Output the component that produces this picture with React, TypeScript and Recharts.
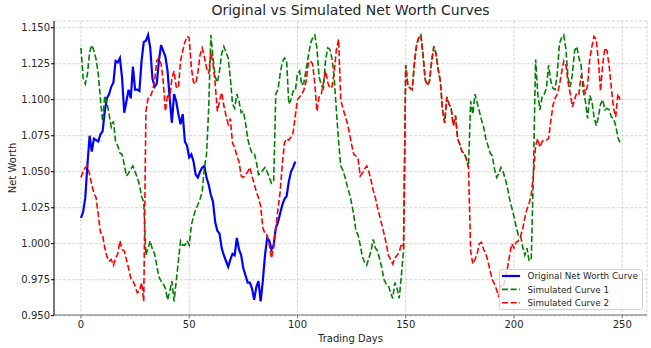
import { LineChart, Line, XAxis, YAxis, CartesianGrid, Legend, Label } from "recharts";

const FONT = '"DejaVu Sans", Verdana, sans-serif';

const X_TICKS = [0, 50, 100, 150, 200, 250];
const Y_TICKS = [0.95, 0.975, 1.0, 1.025, 1.05, 1.075, 1.1, 1.125, 1.15];

// original net worth, trading days 0-99
const ORIGINAL = [
  1.018, 1.022, 1.032, 1.055, 1.075, 1.064, 1.073, 1.072, 1.071, 1.076,
  1.078, 1.092, 1.101, 1.104, 1.109, 1.112, 1.127, 1.126, 1.129, 1.115,
  1.091, 1.099, 1.107, 1.101, 1.123, 1.107, 1.107, 1.106, 1.127, 1.140,
  1.141, 1.145, 1.136, 1.115, 1.109, 1.111, 1.127, 1.138, 1.134, 1.130,
  1.120, 1.101, 1.084, 1.104, 1.099, 1.090, 1.083, 1.090, 1.071, 1.068,
  1.060, 1.062, 1.057, 1.048, 1.046, 1.050, 1.053, 1.054, 1.046, 1.041,
  1.034, 1.029, 1.015, 1.009, 1.007, 0.997, 0.992, 0.988, 0.984, 0.989,
  0.993, 0.992, 1.004, 0.996, 0.992, 0.983, 0.978, 0.973, 0.973, 0.969,
  0.961, 0.970, 0.974, 0.960, 0.974, 0.992, 1.004, 1.002, 0.996, 0.999,
  1.011, 1.015, 1.021, 1.027, 1.031, 1.033, 1.043, 1.050, 1.053, 1.057,
];

// simulated curve 1, days 0-149
const SIM1_HEAD = [
  1.136, 1.115, 1.111, 1.118, 1.133, 1.138, 1.134, 1.128, 1.118, 1.100,
  1.085, 1.103, 1.098, 1.090, 1.081, 1.085, 1.071, 1.068, 1.063, 1.062,
  1.055, 1.047, 1.049, 1.052, 1.054, 1.050, 1.046, 1.041, 1.033, 1.029,
  0.992, 0.997, 1.002, 0.996, 0.993, 0.985, 0.977, 0.974, 0.972, 0.969,
  0.961, 0.967, 0.974, 0.960, 0.974, 0.988, 1.002, 0.999, 0.999, 1.002,
  0.999, 1.013, 1.019, 1.024, 1.027, 1.031, 1.036, 1.053, 1.062, 1.094,
  1.145, 1.129, 1.116, 1.112, 1.120, 1.132, 1.137, 1.133, 1.129, 1.115,
  1.097, 1.094, 1.104, 1.099, 1.091, 1.092, 1.084, 1.073, 1.067, 1.063,
  1.063, 1.057, 1.048, 1.049, 1.051, 1.053, 1.050, 1.046, 1.042, 1.043,
  1.104, 1.107, 1.118, 1.126, 1.129, 1.127, 1.097, 1.100, 1.106, 1.106,
  1.118, 1.120, 1.110, 1.112, 1.121, 1.130, 1.139, 1.143, 1.145, 1.136,
  1.116, 1.110, 1.108, 1.128, 1.136, 1.135, 1.128, 1.115, 1.092, 1.071,
  1.054, 1.051, 1.046, 1.040, 1.035, 1.028, 1.020, 1.009, 1.006, 0.999,
  0.991, 0.987, 0.985, 0.990, 0.995, 1.003, 0.997, 0.995, 0.989, 0.983,
  0.975, 0.972, 0.971, 0.966, 0.962, 0.973, 0.969, 0.962, 0.978, 0.995,
];

// simulated curve 2, days 0-149
const SIM2_HEAD = [
  1.046, 1.050, 1.053, 1.054, 1.048, 1.041, 1.035, 1.032, 1.020, 1.008,
  1.006, 0.997, 0.991, 0.988, 0.989, 0.985, 0.990, 0.993, 1.002, 0.996,
  0.995, 0.989, 0.983, 0.976, 0.974, 0.971, 0.966, 0.967, 0.973, 0.960,
  1.092, 1.101, 1.102, 1.106, 1.113, 1.127, 1.129, 1.125, 1.113, 1.092,
  1.104, 1.101, 1.115, 1.120, 1.109, 1.108, 1.127, 1.134, 1.140, 1.144,
  1.143, 1.122, 1.112, 1.111, 1.119, 1.131, 1.136, 1.130, 1.122, 1.118,
  1.133, 1.125, 1.111, 1.092, 1.099, 1.105, 1.096, 1.089, 1.083, 1.087,
  1.070, 1.067, 1.061, 1.057, 1.047, 1.046, 1.048, 1.050, 1.053, 1.047,
  1.042, 1.036, 1.032, 1.026, 1.011, 1.007, 1.006, 0.999, 0.990, 0.997,
  1.011, 1.024, 1.036, 1.055, 1.070, 1.073, 1.072, 1.074, 1.077, 1.089,
  1.100, 1.102, 1.104, 1.107, 1.113, 1.125, 1.127, 1.125, 1.111, 1.092,
  1.102, 1.104, 1.112, 1.120, 1.112, 1.108, 1.109, 1.120, 1.135, 1.142,
  1.100, 1.094, 1.089, 1.084, 1.077, 1.069, 1.062, 1.061, 1.059, 1.047,
  1.049, 1.052, 1.054, 1.050, 1.044, 1.037, 1.032, 1.025, 1.019, 1.013,
  1.007, 1.000, 0.992, 0.989, 0.986, 0.990, 0.992, 0.994, 1.000, 0.998,
];

// days 150-179: both simulated curves follow the same path
const SHARED = [
  1.124, 1.110, 1.108, 1.107, 1.125, 1.138, 1.143, 1.145, 1.131, 1.114,
  1.110, 1.113, 1.127, 1.137, 1.132, 1.121, 1.113, 1.093, 1.084, 1.102,
  1.097, 1.094, 1.082, 1.089, 1.073, 1.069, 1.064, 1.063, 1.059, 1.053,
];

// days 180-249
const SIM1_TAIL = [
  1.099, 1.090, 1.104, 1.098, 1.092, 1.086, 1.081, 1.073, 1.068, 1.063,
  1.061, 1.052, 1.046, 1.049, 1.053, 1.050, 1.045, 1.039, 1.031, 1.025,
  1.019, 1.012, 1.006, 1.006, 0.998, 0.992, 0.997, 0.988, 0.990, 1.050,
  1.128, 1.104, 1.093, 1.102, 1.104, 1.108, 1.124, 1.113, 1.108, 1.107,
  1.118, 1.139, 1.143, 1.145, 1.135, 1.115, 1.109, 1.118, 1.134, 1.137,
  1.129, 1.124, 1.106, 1.099, 1.087, 1.103, 1.099, 1.088, 1.082, 1.088,
  1.097, 1.100, 1.093, 1.094, 1.093, 1.088, 1.087, 1.082, 1.074, 1.070,
];

const SIM2_TAIL = [
  0.995, 0.986, 0.989, 0.993, 1.000, 1.001, 0.996, 0.993, 0.988, 0.981,
  0.975, 0.972, 0.968, 0.963, 0.971, 0.970, 0.976, 0.983, 0.992, 1.000,
  0.997, 1.001, 1.002, 1.005, 1.010, 1.018, 1.024, 1.028, 1.034, 1.048,
  1.068, 1.073, 1.067, 1.071, 1.072, 1.072, 1.073, 1.085, 1.096, 1.101,
  1.104, 1.110, 1.119, 1.127, 1.124, 1.112, 1.104, 1.095, 1.100, 1.105,
  1.104, 1.117, 1.112, 1.104, 1.110, 1.128, 1.137, 1.144, 1.142, 1.127,
  1.106, 1.125, 1.136, 1.134, 1.123, 1.108, 1.094, 1.088, 1.104, 1.100,
];

const SIM1 = [...SIM1_HEAD, ...SHARED, ...SIM1_TAIL];
const SIM2 = [...SIM2_HEAD, ...SHARED, ...SIM2_TAIL];

const data = SIM1.map((v, day) => ({
  day,
  original: ORIGINAL[day],
  sim1: v,
  sim2: SIM2[day],
}));

const SERIES = [
  { key: "original", label: "Original Net Worth Curve", color: "#0000ff", width: 2.2, dash: undefined },
  { key: "sim1", label: "Simulated Curve 1", color: "#008000", width: 1.6, dash: "6 2.6" },
  { key: "sim2", label: "Simulated Curve 2", color: "#ff0000", width: 1.6, dash: "6 2.6" },
];

const TICK_STYLE = { fontSize: 10, fill: "#262626", fontFamily: FONT };

function LegendBox() {
  return (
    <svg width={144} height={41} style={{ display: "block" }}>
      <rect x={0.5} y={0.5} width={143} height={40} rx={2.5} fill="#fff" fillOpacity={0.8} stroke="#d0d0d0" />
      {SERIES.map((s, i) => {
        const cy = 7 + i * 13.35;
        return (
          <g key={s.key}>
            <line x1={3} x2={21} y1={cy} y2={cy} stroke={s.color} strokeWidth={s.width} strokeDasharray={s.dash} />
            <text x={28.5} y={cy + 3.2} fontSize={8.8} fontFamily={FONT} fill="#262626">
              {s.label}
            </text>
          </g>
        );
      })}
    </svg>
  );
}

export default function App() {
  return (
    <div style={{ position: "fixed", left: 0, top: 0, width: 651, height: 348, background: "#fff", fontFamily: FONT }}>
      <div style={{ position: "absolute", left: 0, top: 2, width: 701, textAlign: "center", fontSize: 14, color: "#262626", whiteSpace: "nowrap" }}>
        Original vs Simulated Net Worth Curves
      </div>
      <LineChart width={651} height={348} data={data} margin={{ top: 21, right: 4, bottom: 0, left: 0 }}>
        <CartesianGrid stroke="#d4d4d4" strokeDasharray="3 1.5" />
        <XAxis
          dataKey="day"
          type="number"
          domain={[-12.45, 261.45]}
          ticks={X_TICKS}
          allowDataOverflow
          height={33}
          tick={TICK_STYLE}
          tickSize={3.5}
          tickMargin={2}
          stroke="#777"
        >
          <Label
            content={() => (
              <text x={350.5} y={341.5} textAnchor="middle" fontSize={10} fontFamily={FONT} fill="#262626">
                Trading Days
              </text>
            )}
          />
        </XAxis>
        <YAxis
          type="number"
          domain={[0.9505, 1.1547]}
          ticks={Y_TICKS}
          allowDataOverflow
          width={54}
          tick={TICK_STYLE}
          tickSize={3}
          tickMargin={1}
          tickFormatter={(v: number) => v.toFixed(3)}
          stroke="#000"
        >
          <Label
            content={() => (
              <text
                x={16}
                y={168}
                transform="rotate(-90, 16, 168)"
                textAnchor="middle"
                fontSize={10}
                fontFamily={FONT}
                fill="#262626"
              >
                Net Worth
              </text>
            )}
          />
        </YAxis>
        <Legend
          layout="horizontal"
          verticalAlign="middle"
          align="center"
          content={() => <LegendBox />}
          wrapperStyle={{ left: 499, top: 269, width: 144, height: 41 }}
        />
        {SERIES.map((s) => (
          <Line
            key={s.key}
            dataKey={s.key}
            type="linear"
            stroke={s.color}
            strokeWidth={s.width}
            strokeDasharray={s.dash}
            dot={false}
            activeDot={false}
            isAnimationActive={false}
          />
        ))}
      </LineChart>
    </div>
  );
}
